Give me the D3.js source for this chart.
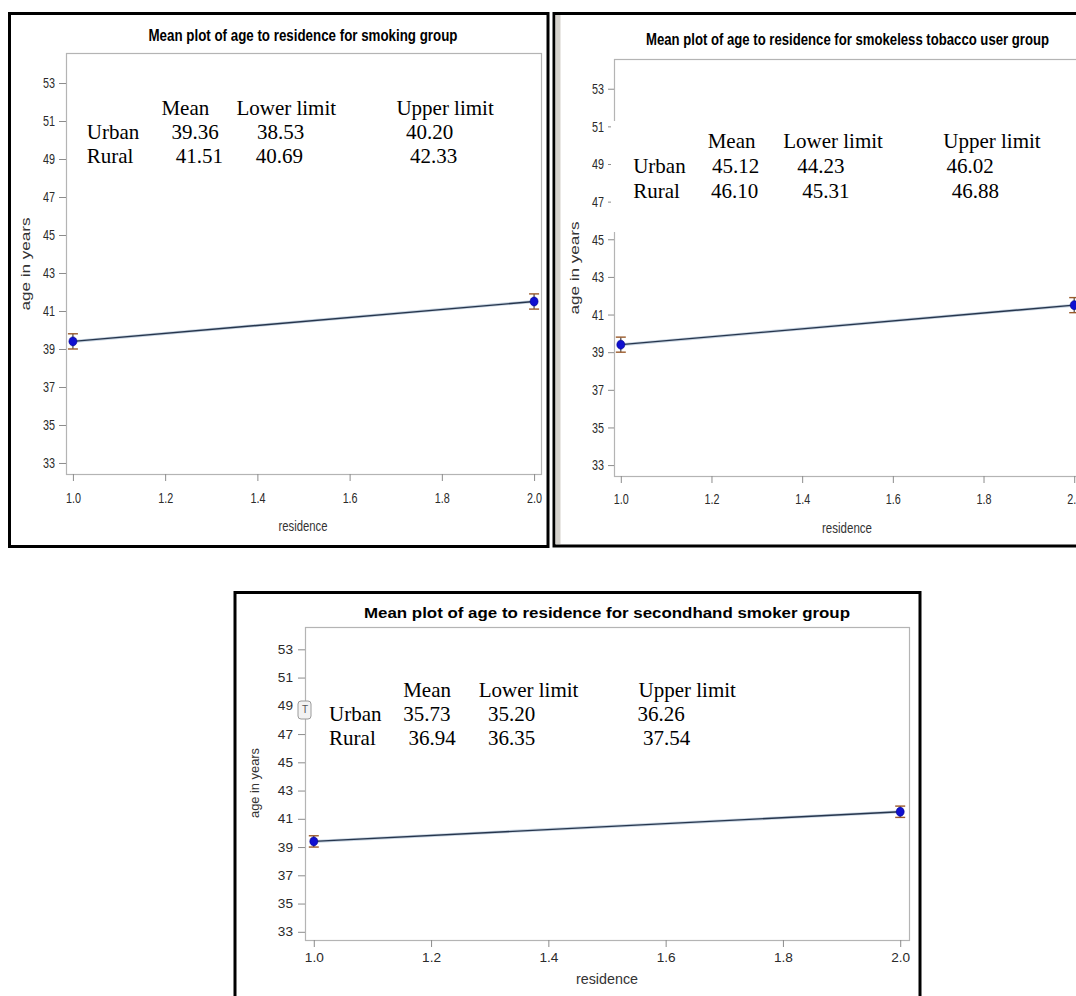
<!DOCTYPE html>
<html>
<head>
<meta charset="utf-8">
<script src="https://cdn.jsdelivr.net/npm/d3@7"></script>
<style>
  html, body { margin: 0; padding: 0; background: #ffffff; }
  svg { display: block; }
</style>
</head>
<body>
<svg id="chart" width="1076" height="996"></svg>
<script>
// ---------------- DATA ----------------
const residence = [1, 2];
const meanAge   = [39.4, 41.5];
const lowerCI   = [39.0, 41.1];
const upperCI   = [39.8, 41.9];

const yTicks = [33, 35, 37, 39, 41, 43, 45, 47, 49, 51, 53];
const xTicks = [1.0, 1.2, 1.4, 1.6, 1.8, 2.0];

const panelTitles = [
  "Mean plot of age to residence for smoking group",
  "Mean plot of age to residence for smokeless tobacco user group",
  "Mean plot of age to residence for secondhand smoker group"
];
const xAxisTitle = "residence";
const yAxisTitle = "age in years";

const tableHeaders = ["Mean", "Lower limit", "Upper limit"];
const rowLabels = ["Urban", "Rural"];
const smokingTable    = [["39.36", "38.53", "40.20"], ["41.51", "40.69", "42.33"]];
const smokelessTable  = [["45.12", "44.23", "46.02"], ["46.10", "45.31", "46.88"]];
const secondhandTable = [["35.73", "35.20", "36.26"], ["36.94", "36.35", "37.54"]];

// ---------------- LAYOUT ----------------
const SANS = "'Liberation Sans', Arial, sans-serif";
const SERIF = "'Liberation Serif', 'Times New Roman', serif";

const panels = [
  {
    title: panelTitles[0], table: smokingTable,
    frame: {l: 66, t: 53, r: 541, b: 474},
    tickSize: 15, tickSX: 0.72, yTick: {size: 7, pad: 4}, xTick: {size: 7, pad: 11},
    titleSize: 17, titleX: 303, titleY: 41, titleLen: 309,
    yTitle: {x: 26, y: 264, len: 93, size: 12},
    xTitle: {x: 303, y: 531, len: 49, size: 15},
    tbl: {hy: 115, ry: [138.6, 162.5], lx: 86.8, hx: [161.4, 236.4, 396.4], cx: [[171.4, 257, 406], [175.7, 255.7, 410]]}
  },
  {
    title: panelTitles[1], table: smokelessTable,
    frame: {l: 614, t: 59, r: 1081, b: 476},
    tickSize: 15, tickSX: 0.72, yTick: {size: 6, pad: 4}, xTick: {size: 7, pad: 10},
    titleSize: 17, titleX: 847.5, titleY: 45, titleLen: 403,
    yTitle: {x: 575, y: 268, len: 93, size: 12},
    xTitle: {x: 847, y: 533, len: 50, size: 15},
    tbl: {hy: 148, ry: [173.2, 198.2], lx: 633.2, hx: [707.7, 783.2, 943.3], cx: [[712, 797.3, 946.6], [711, 802.3, 951.7]]},
    cover: {x: 611, y: 121, w: 470, h: 111}
  },
  {
    title: panelTitles[2], table: secondhandTable,
    frame: {l: 305, t: 627, r: 909, b: 940},
    tickSize: 13, tickSX: 1.05, yTick: {size: 7, pad: 5}, xTick: {size: 7, pad: 6},
    titleSize: 15, titleX: 607, titleY: 617.5, titleLen: 486,
    yTitle: {x: 255, y: 783, len: 70, size: 13},
    xTitle: {x: 607, y: 984, len: 62, size: 14},
    tbl: {hy: 696.7, ry: [720.7, 745.3], lx: 329.1, hx: [403.2, 478.7, 638.5], cx: [[403.2, 488, 637.6], [408.6, 488, 643]]},
    tbox: {x: 298, y: 701, w: 13, h: 18}
  }
];

const svg = d3.select("#chart");

// ---------------- PANEL BORDERS ----------------
svg.append("rect").attr("x", 9.5).attr("y", 13.5).attr("width", 538.5).attr("height", 533)
  .attr("fill", "#fff").attr("stroke", "#000").attr("stroke-width", 3);
svg.append("rect").attr("x", 554).attr("y", 13.5).attr("width", 530).attr("height", 532.5)
  .attr("fill", "#fff").attr("stroke", "#000").attr("stroke-width", 3);
svg.append("rect").attr("x", 555.5).attr("y", 15).attr("width", 5).attr("height", 529)
  .attr("fill", "#d5d2cc");
svg.append("rect").attr("x", 235).attr("y", 592.5).attr("width", 685).attr("height", 420)
  .attr("fill", "#fff").attr("stroke", "#000").attr("stroke-width", 3);

// ---------------- DRAW PANELS ----------------
panels.forEach((p) => {
  const g = svg.append("g");
  const f = p.frame;
  const x = d3.scaleLinear().domain([0.985, 2.015]).range([f.l, f.r]);
  const y = d3.scaleLinear().domain([32.42, 54.58]).range([f.b, f.t]);

  g.append("rect").attr("x", f.l + 0.5).attr("y", f.t + 0.5)
    .attr("width", f.r - f.l).attr("height", f.b - f.t)
    .attr("fill", "#fff").attr("stroke", "#b4b4b4").attr("stroke-width", 1.2);

  // y axis
  const yAx = g.append("g").attr("transform", `translate(${f.l},0)`)
    .call(d3.axisLeft(y).tickValues(yTicks).tickFormat(d3.format("d"))
      .tickSize(p.yTick.size).tickPadding(p.yTick.pad));
  yAx.select(".domain").remove();
  yAx.selectAll("line").attr("stroke", "#8c8c8c");
  yAx.selectAll("text").attr("fill", "#2a2a2a").attr("font-family", SANS)
    .attr("font-size", p.tickSize)
    .attr("x", -(p.yTick.size + p.yTick.pad) / p.tickSX)
    .attr("transform", `scale(${p.tickSX},1)`);

  // x axis
  const xAx = g.append("g").attr("transform", `translate(0,${f.b})`)
    .call(d3.axisBottom(x).tickValues(xTicks).tickFormat(d3.format(".1f"))
      .tickSize(p.xTick.size).tickPadding(p.xTick.pad));
  xAx.select(".domain").remove();
  xAx.selectAll("line").attr("stroke", "#8c8c8c");
  xAx.selectAll("text").attr("fill", "#2a2a2a").attr("font-family", SANS)
    .attr("font-size", p.tickSize)
    .attr("transform", `scale(${p.tickSX},1)`);

  // title
  g.append("text").attr("x", p.titleX).attr("y", p.titleY)
    .attr("text-anchor", "middle").attr("font-family", SANS)
    .attr("font-weight", "bold").attr("font-size", p.titleSize).attr("fill", "#000")
    .attr("textLength", p.titleLen).attr("lengthAdjust", "spacingAndGlyphs")
    .text(p.title);

  // axis titles
  g.append("text").attr("transform", `translate(${p.yTitle.x + 4},${p.yTitle.y}) rotate(-90)`)
    .attr("text-anchor", "middle").attr("font-family", SANS)
    .attr("font-size", p.yTitle.size).attr("fill", "#333")
    .attr("textLength", p.yTitle.len).attr("lengthAdjust", "spacingAndGlyphs")
    .text(yAxisTitle);
  g.append("text").attr("x", p.xTitle.x).attr("y", p.xTitle.y)
    .attr("text-anchor", "middle").attr("font-family", SANS)
    .attr("font-size", p.xTitle.size).attr("fill", "#333")
    .attr("textLength", p.xTitle.len).attr("lengthAdjust", "spacingAndGlyphs")
    .text(xAxisTitle);

  if (p.cover) {
    g.append("rect").attr("x", p.cover.x).attr("y", p.cover.y)
      .attr("width", p.cover.w).attr("height", p.cover.h).attr("fill", "#fff");
  }
  if (p.tbox) {
    g.append("rect").attr("x", p.tbox.x).attr("y", p.tbox.y)
      .attr("width", p.tbox.w).attr("height", p.tbox.h).attr("rx", 3)
      .attr("fill", "#f3f3f3").attr("stroke", "#9a9a9a");
    g.append("text").attr("x", p.tbox.x + 4).attr("y", p.tbox.y + 12)
      .attr("font-family", SANS).attr("font-size", 10).attr("fill", "#555").text("T");
  }

  // data: line, error bars, markers
  const pts = residence.map((r, k) => ({r, m: meanAge[k], lo: lowerCI[k], hi: upperCI[k]}));
  const lineGen = d3.line().x(d => x(d.r)).y(d => y(d.m));
  g.append("path").datum(pts).attr("d", lineGen)
    .attr("fill", "none").attr("stroke", "#9fb4cc").attr("stroke-width", 3).attr("opacity", 0.6);
  g.append("path").datum(pts).attr("d", lineGen)
    .attr("fill", "none").attr("stroke", "#27364d").attr("stroke-width", 1.4);

  const eb = g.selectAll(".eb").data(pts).enter().append("g");
  eb.append("line").attr("x1", d => x(d.r)).attr("x2", d => x(d.r))
    .attr("y1", d => y(d.lo)).attr("y2", d => y(d.hi))
    .attr("stroke", "#4a4a4a").attr("stroke-width", 1.2);
  eb.append("line").attr("x1", d => x(d.r) - 5).attr("x2", d => x(d.r) + 5)
    .attr("y1", d => y(d.lo)).attr("y2", d => y(d.lo))
    .attr("stroke", "#9a5a2a").attr("stroke-width", 1.4);
  eb.append("line").attr("x1", d => x(d.r) - 5).attr("x2", d => x(d.r) + 5)
    .attr("y1", d => y(d.hi)).attr("y2", d => y(d.hi))
    .attr("stroke", "#9a5a2a").attr("stroke-width", 1.4);
  eb.append("ellipse").attr("cx", d => x(d.r)).attr("cy", d => y(d.m))
    .attr("rx", 4).attr("ry", 4.5).attr("fill", "#1010d0").attr("stroke", "#00008a").attr("stroke-width", 0.6);

  // summary table text
  const t = p.tbl;
  tableHeaders.forEach((h, k) => {
    g.append("text").attr("x", t.hx[k]).attr("y", t.hy)
      .attr("font-family", SERIF).attr("font-size", 21).attr("fill", "#000").text(h);
  });
  rowLabels.forEach((rl, ri) => {
    g.append("text").attr("x", t.lx).attr("y", t.ry[ri])
      .attr("font-family", SERIF).attr("font-size", 21).attr("fill", "#000").text(rl);
    p.table[ri].forEach((v, k) => {
      g.append("text").attr("x", t.cx[ri][k]).attr("y", t.ry[ri])
        .attr("font-family", SERIF).attr("font-size", 21).attr("fill", "#000").text(v);
    });
  });
});
</script>
</body>
</html>
